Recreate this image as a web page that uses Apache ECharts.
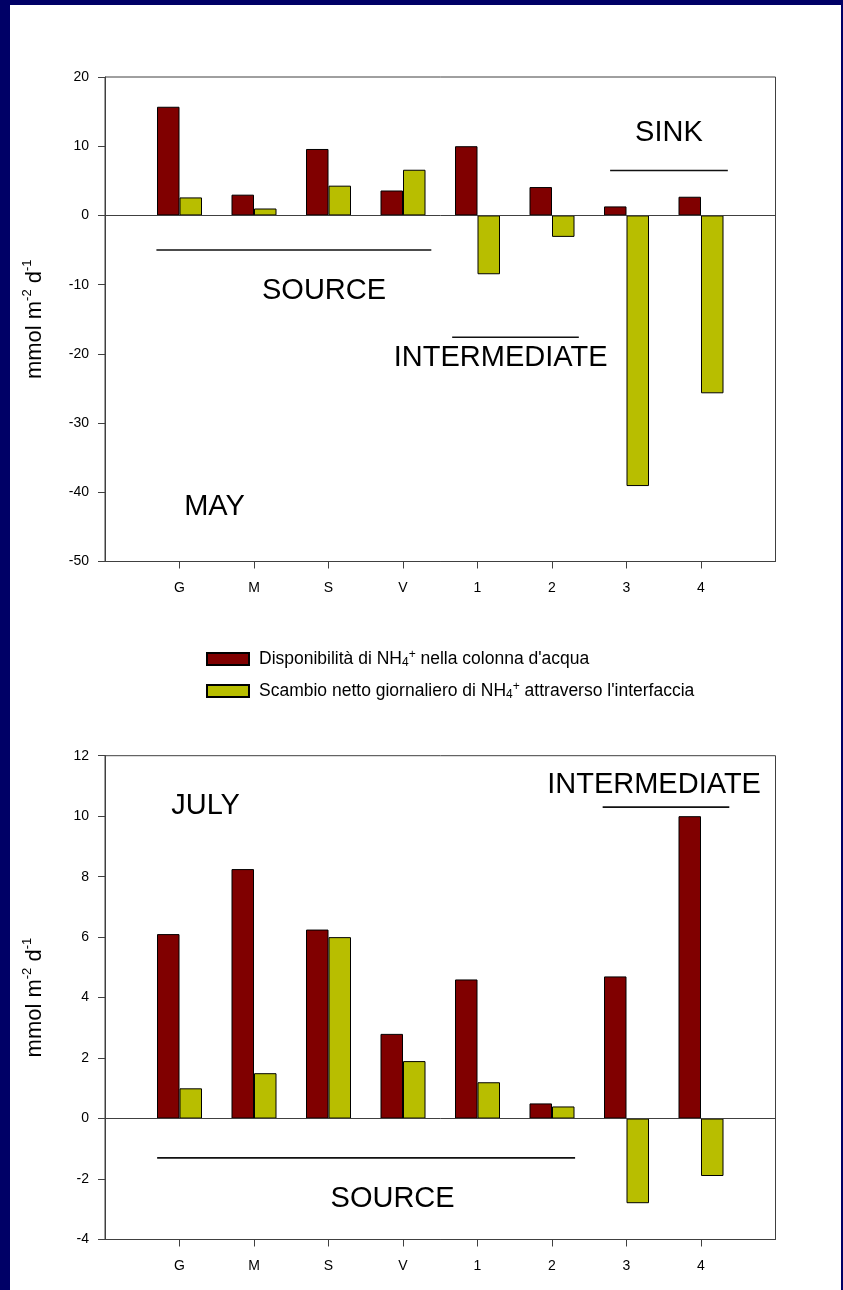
<!DOCTYPE html>
<html>
<head>
<meta charset="utf-8">
<script src="https://cdn.jsdelivr.net/npm/echarts@6/dist/echarts.min.js"></script>
<style>
  html, body { margin: 0; padding: 0; background: #fff; }
  #chart { width: 843px; height: 1290px; }
</style>
</head>
<body>
<div id="chart"></div>
<script>
// Sampling sites (x categories)
const sites = ['G', 'M', 'S', 'V', '1', '2', '3', '4'];

// May: NH4+ availability in the water column and daily net exchange across the interface
const mayAvail = [15.7, 3.0, 9.6, 3.6, 10.0, 4.1, 1.3, 2.7];
const mayFlux  = [2.6, 1.0, 4.3, 6.6, -8.5, -3.1, -39.1, -25.7];

// July
const julyAvail = [6.1, 8.25, 6.25, 2.8, 4.6, 0.5, 4.7, 10.0];
const julyFlux  = [1.0, 1.5, 6.0, 1.9, 1.2, 0.4, -2.8, -1.9];

// y-axis ranges [min, max, step]
const mayScale  = [-50, 20, 10];
const julyScale = [-4, 12, 2];

// Group brackets [from, to, level]; x in site positions (G = 1 ... 4 = 8)
const mayBrackets  = [[0.69, 4.38, -5], [4.66, 6.36, -17.6], [6.78, 8.36, 6.5]];
const julyBrackets = [[0.70, 6.31, -1.3], [6.68, 8.38, 10.3]];

// Group / month captions [text, x, y]
const mayNotes  = [['SOURCE', 2.94, -10.9], ['INTERMEDIATE', 5.31, -20.6], ['SINK', 7.57, 11.9], ['MAY', 1.47, -42.1]];
const julyNotes = [['SOURCE', 3.86, -2.67], ['INTERMEDIATE', 7.37, 11.03], ['JULY', 1.35, 10.35]];

const seriesNames = ['Disponibilità di NH4+ nella colonna d\'acqua', 'Scambio netto giornaliero di NH4+ attraverso l\'interfaccia'];
const legendRich = [
  'Disponibilità di NH{sub|4}{sup|+} nella colonna d\'acqua',
  'Scambio netto giornaliero di NH{sub|4}{sup|+} attraverso l\'interfaccia'
];
const yName = 'mmol m{sup|-2} d{sup|-1}';

const FONT = '"Liberation Sans", Arial, sans-serif';
const AXIS = '#404040';
const RED = '#800000';
const OLIVE = '#b8be00';

const catData = [''].concat(sites, ['']);
const pad = a => [null].concat(a, [null]);

const grids = [
  { left: 105, right: 67.5, top: 77, bottom: 728.5 },
  { left: 105, right: 67.5, top: 755.7, bottom: 50.5 }
];

const xAxes = [];
const yAxes = [];
const series = [];

function panel(g, avail, flux, scale, brackets, notes) {
  xAxes.push({
    type: 'category', gridIndex: g, data: catData, boundaryGap: false,
    axisLine: { show: true, onZero: false, lineStyle: { color: AXIS, width: 1 } },
    axisTick: { show: true, length: 7, lineStyle: { color: AXIS },
      interval: (i) => i > 0 && i < catData.length - 1 },
    axisLabel: { interval: 0, margin: 20, fontSize: 14, color: '#000', fontFamily: FONT },
    splitLine: { show: false }
  });
  xAxes.push({ type: 'value', gridIndex: g, min: 0, max: catData.length - 1, show: false });
  yAxes.push({
    type: 'value', gridIndex: g, min: scale[0], max: scale[1], interval: scale[2],
    axisLine: { show: true, lineStyle: { color: AXIS, width: 1 } },
    axisTick: { show: true, length: 7, lineStyle: { color: AXIS } },
    axisLabel: { margin: 16, fontSize: 14, color: '#000', fontFamily: FONT },
    splitLine: { show: false },
    name: yName, nameLocation: 'middle', nameGap: 56,
    nameTextStyle: {
      fontSize: 22, color: '#000', fontFamily: FONT, lineHeight: 28,
      rich: { sup: { fontSize: 13, verticalAlign: 'top', color: '#000', fontFamily: FONT } }
    }
  });
  const cx = 2 * g, vx = 2 * g + 1;
  const barStyle = c => ({ color: c, borderColor: '#000', borderWidth: 1 });
  series.push({
    type: 'bar', name: seriesNames[0], xAxisIndex: cx, yAxisIndex: g,
    data: pad(avail), barWidth: 22.5, barGap: '0%', itemStyle: barStyle(RED),
    markLine: {
      silent: true, symbol: ['none', 'none'], label: { show: false },
      lineStyle: { color: AXIS, width: 1, type: 'solid' }, data: [{ yAxis: 0 }]
    }
  });
  series.push({
    type: 'bar', name: seriesNames[1], xAxisIndex: cx, yAxisIndex: g,
    data: pad(flux), barWidth: 22.5, barGap: '0%', itemStyle: barStyle(OLIVE)
  });
  brackets.forEach(b => series.push({
    type: 'line', xAxisIndex: vx, yAxisIndex: g, silent: true, symbol: 'none',
    lineStyle: { color: '#111', width: 1.6 },
    data: [[b[0], b[2]], [b[1], b[2]]]
  }));
  series.push({
    type: 'scatter', xAxisIndex: vx, yAxisIndex: g, silent: true, symbolSize: 1,
    itemStyle: { color: 'rgba(0,0,0,0)' },
    label: { show: true, position: 'inside', fontSize: 29, color: '#000', fontFamily: FONT,
      textBorderWidth: 0, opacity: 1, formatter: p => p.data[2] },
    data: notes.map(n => [n[1], n[2], n[0]])
  });
}

panel(0, mayAvail, mayFlux, mayScale, mayBrackets, mayNotes);
panel(1, julyAvail, julyFlux, julyScale, julyBrackets, julyNotes);

const chart = echarts.init(document.getElementById('chart'), null, { renderer: 'canvas' });
chart.setOption({
  animation: false,
  backgroundColor: '#fff',
  grid: grids.map(g => Object.assign({ show: true, borderColor: AXIS, borderWidth: 1, backgroundColor: 'transparent' }, g)),
  xAxis: xAxes,
  yAxis: yAxes,
  legend: {
    data: seriesNames, orient: 'vertical', left: 206, top: 649, padding: 0,
    itemWidth: 42, itemHeight: 12, itemGap: 12, icon: 'rect',
    formatter: name => legendRich[seriesNames.indexOf(name)],
    textStyle: {
      fontSize: 17.5, color: '#000', fontFamily: FONT, lineHeight: 20, padding: [0, 0, 0, 5],
      rich: {
        sub: { fontSize: 12, verticalAlign: 'bottom', color: '#000', fontFamily: FONT },
        sup: { fontSize: 12, verticalAlign: 'top', color: '#000', fontFamily: FONT }
      }
    }
  },
  graphic: [
    { type: 'rect', silent: true, shape: { x: 0, y: 0, width: 10, height: 1290 }, style: { fill: '#000066' } },
    { type: 'rect', silent: true, shape: { x: 0, y: 0, width: 843, height: 5 }, style: { fill: '#000066' } },
    { type: 'rect', silent: true, shape: { x: 841, y: 0, width: 2, height: 1290 }, style: { fill: '#000066' } }
  ],
  series: series
});
</script>
</body>
</html>
